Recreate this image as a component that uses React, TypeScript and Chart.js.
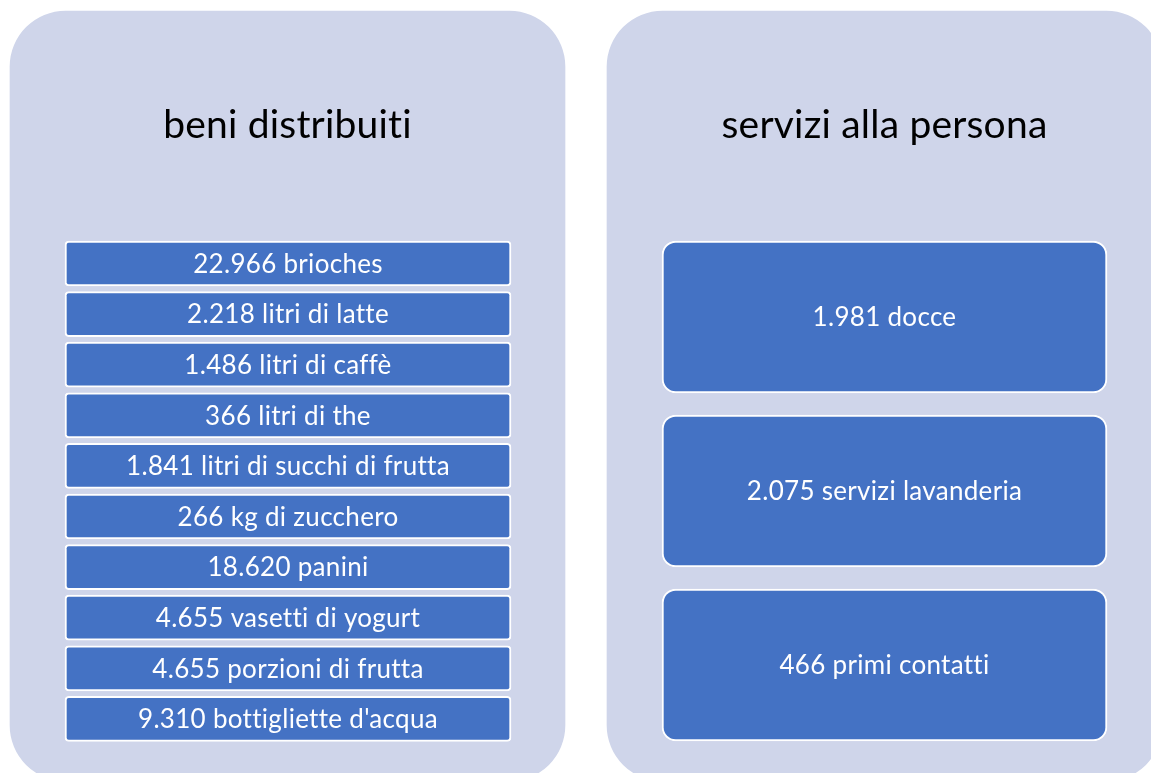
import React, { useEffect, useRef } from "react";
import { Chart, registerables } from "chart.js";

Chart.register(...registerables);

// ---- data ----
const panelTitles = ["beni distribuiti", "servizi alla persona"];
const beniItems = [
  "22.966 brioches",
  "2.218 litri di latte",
  "1.486 litri di caffè",
  "366 litri di the",
  "1.841 litri di succhi di frutta",
  "266 kg di zucchero",
  "18.620 panini",
  "4.655 vasetti di yogurt",
  "4.655 porzioni di frutta",
  "9.310 bottigliette d'acqua",
];
const serviziItems = ["1.981 docce", "2.075 servizi lavanderia", "466 primi contatti"];

// ---- layout (scale units == pixels) ----
const W = 1151;
const H = 773;
const PANEL_X: [number, number][] = [
  [10, 565],
  [607, 1162],
];
const PANEL_TOP = 11;
const PANEL_BOTTOM = 781;
const TITLE_BASELINE = 138;
const BENI_X: [number, number] = [65, 511];
const BENI_TOP = 241;
const BENI_PITCH = 50.6;
const BENI_H = 45;
const SERV_X: [number, number] = [662, 1107];
const SERV_TOP = 241;
const SERV_PITCH = 174;
const SERV_H = 152;

const FONT = "Lato, 'Open Sans', sans-serif";
const PANEL_COLOR = "#CFD5EA";
const BOX_COLOR = "#4472C4";

const labelsPlugin = {
  id: "smartartLabels",
  afterDatasetsDraw(chart: any) {
    const ctx = chart.ctx;
    const yScale = chart.scales.y;
    ctx.save();
    ctx.textAlign = "center";
    ctx.textBaseline = "alphabetic";
    chart.data.datasets.forEach((ds: any, di: number) => {
      const meta = chart.getDatasetMeta(di);
      meta.data.forEach((el: any, i: number) => {
        const p = el.getProps(["x", "y", "base"], true);
        const cx = (p.x + p.base) / 2;
        if (ds.kind === "panel") {
          ctx.fillStyle = "#000000";
          ctx.font = `39px ${FONT}`;
          (ctx as any).letterSpacing = "0.2px";
          ctx.fillText(ds.texts[i], cx, yScale.getPixelForValue(TITLE_BASELINE));
        } else {
          ctx.fillStyle = "#FFFFFF";
          ctx.font = `26px ${FONT}`;
          (ctx as any).letterSpacing = "0.3px";
          ctx.fillText(ds.texts[i], cx, p.y + 9.3);
        }
      });
    });
    ctx.restore();
  },
};

export default function App() {
  const canvasRef = useRef<HTMLCanvasElement | null>(null);

  useEffect(() => {
    const canvas = canvasRef.current;
    if (!canvas) return;

    const panelData = panelTitles.map((_, i) => ({
      y: (PANEL_TOP + PANEL_BOTTOM) / 2,
      x: PANEL_X[i],
    }));
    const beniData = beniItems.map((_, i) => ({
      y: BENI_TOP + i * BENI_PITCH + BENI_H / 2,
      x: BENI_X,
    }));
    const servData = serviziItems.map((_, i) => ({
      y: SERV_TOP + i * SERV_PITCH + SERV_H / 2,
      x: SERV_X,
    }));

    const chart = new Chart(canvas, {
      type: "bar",
      data: {
        datasets: [
          {
            kind: "panel",
            texts: panelTitles,
            data: panelData,
            stack: "s",
            order: 2,
            barThickness: PANEL_BOTTOM - PANEL_TOP,
            backgroundColor: PANEL_COLOR,
            borderWidth: 0,
            borderRadius: 56,
            borderSkipped: false,
          } as any,
          {
            kind: "box",
            texts: beniItems,
            data: beniData,
            stack: "s",
            order: 1,
            barThickness: BENI_H,
            backgroundColor: BOX_COLOR,
            borderColor: "#FFFFFF",
            borderWidth: 2,
            borderRadius: 4,
            borderSkipped: false,
          } as any,
          {
            kind: "box",
            texts: serviziItems,
            data: servData,
            stack: "s",
            order: 1,
            barThickness: SERV_H,
            backgroundColor: BOX_COLOR,
            borderColor: "#FFFFFF",
            borderWidth: 2,
            borderRadius: 14,
            borderSkipped: false,
          } as any,
        ],
      },
      options: {
        indexAxis: "y",
        animation: false,
        responsive: false,
        devicePixelRatio: 1,
        events: [],
        layout: { padding: 0 },
        plugins: {
          legend: { display: false },
          tooltip: { enabled: false },
          title: { display: false },
        },
        scales: {
          x: { type: "linear", min: 0, max: W, display: false, stacked: false, offset: false },
          y: {
            type: "linear",
            min: 0,
            max: H,
            reverse: true,
            display: false,
            offset: false,
            grid: { offset: false },
          },
        },
      } as any,
      plugins: [labelsPlugin],
    });

    const fonts: any = (document as any).fonts;
    if (fonts && fonts.load) {
      Promise.all([fonts.load(`26px Lato`), fonts.load(`39px Lato`)]).then(() => {
        try {
          chart.draw();
        } catch (e) {}
      });
    }

    return () => {
      chart.destroy();
    };
  }, []);

  return (
    <div style={{ position: "absolute", left: 0, top: 0, width: W, height: H, background: "#FFFFFF" }}>
      <canvas ref={canvasRef} width={W} height={H} style={{ display: "block", width: W, height: H }} />
    </div>
  );
}
